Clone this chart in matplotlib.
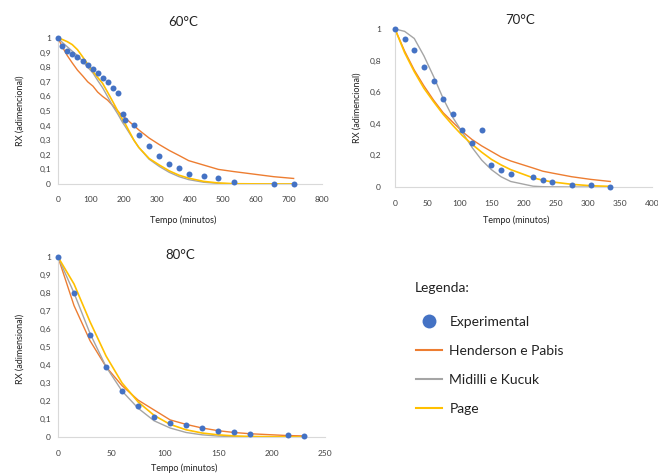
import matplotlib
matplotlib.use("Agg")
import matplotlib.pyplot as plt
from matplotlib.lines import Line2D
from matplotlib.ticker import FuncFormatter

plt.rcParams['font.family'] = ['Lato', 'DejaVu Sans']

W, H = 658, 473

# 60 °C
t60 = [0, 13, 28, 43, 59, 75, 90, 106, 120, 135, 150, 167, 181, 196, 202, 230,
       245, 276, 307, 337, 367, 396, 441, 486, 533, 654, 714]
exp60 = [1.0, 0.943, 0.911, 0.893, 0.870, 0.845, 0.818, 0.789, 0.761, 0.727, 0.698,
         0.657, 0.620, 0.477, 0.441, 0.402, 0.336, 0.257, 0.195, 0.139, 0.111,
         0.070, 0.055, 0.041, 0.014, 0.0, 0.0]
hp60 = [1.0, 0.94, 0.88, 0.83, 0.78, 0.74, 0.70, 0.67, 0.63, 0.60, 0.575, 0.535,
        0.50, 0.465, 0.455, 0.40, 0.37, 0.315, 0.27, 0.23, 0.195, 0.16, 0.13, 0.10,
        0.085, 0.05, 0.038]
mk60 = [1.0, 0.97, 0.94, 0.91, 0.88, 0.84, 0.80, 0.76, 0.71, 0.66, 0.60, 0.53, 0.48,
        0.42, 0.40, 0.30, 0.25, 0.17, 0.12, 0.08, 0.05, 0.03, 0.012, 0.004, 0.001,
        0.0, 0.0]
pg60 = [1.0, 0.99, 0.975, 0.955, 0.92, 0.87, 0.82, 0.77, 0.73, 0.69, 0.63, 0.56,
        0.50, 0.44, 0.42, 0.30, 0.25, 0.175, 0.13, 0.09, 0.06, 0.04, 0.018, 0.007,
        0.002, 0.0, 0.0]

# 70 °C
t70 = [0, 15, 30, 45, 60, 75, 90, 105, 120, 135, 150, 165, 180, 215, 230, 245,
       275, 305, 335]
exp70 = [1.0, 0.935, 0.865, 0.76, 0.67, 0.555, 0.46, 0.36, 0.28, 0.36, 0.14, 0.105,
         0.08, 0.063, 0.044, 0.03, 0.013, 0.013, 0.0]
hp70 = [1.0, 0.86, 0.74, 0.64, 0.55, 0.47, 0.41, 0.35, 0.30, 0.26, 0.225, 0.19,
        0.165, 0.12, 0.10, 0.088, 0.065, 0.048, 0.035]
mk70 = [1.0, 0.985, 0.94, 0.83, 0.70, 0.56, 0.44, 0.345, 0.25, 0.17, 0.11, 0.065,
        0.035, 0.005, 0.002, 0.001, 0.0, 0.0, 0.0]
pg70 = [1.0, 0.85, 0.73, 0.625, 0.54, 0.46, 0.39, 0.325, 0.27, 0.22, 0.175, 0.14,
        0.11, 0.058, 0.043, 0.032, 0.017, 0.008, 0.004]

# 80 °C
t80 = [0, 15, 30, 45, 60, 75, 90, 105, 120, 135, 150, 165, 180, 215, 230]
exp80 = [1.0, 0.80, 0.567, 0.387, 0.254, 0.174, 0.113, 0.078, 0.065, 0.05, 0.031,
         0.026, 0.017, 0.011, 0.004]
hp80 = [1.0, 0.73, 0.535, 0.39, 0.285, 0.205, 0.15, 0.095, 0.07, 0.05, 0.035, 0.025,
        0.018, 0.008, 0.006]
mk80 = [1.0, 0.80, 0.575, 0.39, 0.255, 0.16, 0.09, 0.05, 0.025, 0.012, 0.005, 0.002,
        0.001, 0.0, 0.0]
pg80 = [1.0, 0.85, 0.64, 0.45, 0.30, 0.195, 0.12, 0.07, 0.04, 0.022, 0.012, 0.006,
        0.003, 0.001, 0.0]

BLUE, ORANGE, GRAY, YELLOW = '#4472C4', '#ED7D31', '#A5A5A5', '#FFC000'
TXT = '#404040'


def px(x, y):
    return x / W, 1 - y / H


def box(x0, y0, x1, y1):
    # pixel box (left, top, right, bottom) -> figure fraction rect
    return [x0 / W, 1 - y1 / H, (x1 - x0) / W, (y1 - y0) / H]


comma = FuncFormatter(lambda v, p: ('%g' % round(v, 2)).replace('.', ','))

fig = plt.figure(figsize=(W / 100, H / 100), dpi=100)


def panel(rect, t, e, hp, mk, pg, xmax, xstep, ystep, title, tpos, xpad, ypad,
          xlab_y, ylabel, ylab_pos):
    ax = fig.add_axes(rect)
    ax.plot(t, hp, color=ORANGE, lw=1.0)
    ax.plot(t, mk, color=GRAY, lw=1.0)
    ax.plot(t, pg, color=YELLOW, lw=1.2)
    ax.plot(t, e, 'o', color=BLUE, ms=4.3, mec='none', clip_on=False, zorder=5)
    ax.set_xlim(0, xmax)
    ax.set_ylim(0, 1)
    ax.set_xticks(range(0, xmax + 1, xstep))
    n = int(round(1 / ystep))
    ax.set_yticks([i * ystep for i in range(n + 1)])
    ax.yaxis.set_major_formatter(comma)
    for s in ('top', 'right'):
        ax.spines[s].set_visible(False)
    for s in ('left', 'bottom'):
        ax.spines[s].set_color('#D9D9D9')
        ax.spines[s].set_linewidth(0.8)
    ax.tick_params(length=0, labelsize=6, colors=TXT)
    ax.tick_params(axis='x', pad=xpad)
    ax.tick_params(axis='y', pad=ypad)
    fig.text(*px(*tpos), title, ha='center', va='center', fontsize=9.5, color='#222')
    x0 = rect[0] * W
    x1 = x0 + rect[2] * W
    fig.text(*px((x0 + x1) / 2 - 7, xlab_y), 'Tempo (minutos)', ha='center',
             va='center', fontsize=6.5, color='#222')
    fig.text(*px(*ylab_pos), ylabel, rotation=90, ha='center', va='center',
             fontsize=6.5, color='#222')
    return ax


ax1 = panel(box(58, 38, 322, 184), t60, exp60, hp60, mk60, pg60,
            800, 100, 0.1, '60°C', (183, 22), 9, 5, 220,
            'RX (adimencional)', (20, 111))
ax2 = panel(box(395, 29, 652, 187), t70, exp70, hp70, mk70, pg70,
            400, 50, 0.2, '70°C', (520, 20), 9, 10, 220,
            'RX (adimencional)', (357, 108))
ax3 = panel(box(58, 257, 325, 437), t80, exp80, hp80, mk80, pg80,
            250, 50, 0.1, '80°C', (180, 255), 9, 5, 468,
            'RX (adimensional)', (20, 349))

fig.text(*px(415, 288), 'Legenda:', ha='left', va='center', fontsize=10,
         color='#222')
handles = [
    Line2D([], [], ls='none', marker='o', ms=10, color=BLUE, mec='none'),
    Line2D([], [], color=ORANGE, lw=1.5),
    Line2D([], [], color=GRAY, lw=1.5),
    Line2D([], [], color=YELLOW, lw=1.5),
]
labels = ['Experimental', 'Henderson e Pabis', 'Midilli e Kucuk', 'Page']
leg = fig.legend(handles, labels, loc='upper left',
                 bbox_to_anchor=px(416, 316), frameon=False, fontsize=10,
                 handlelength=1.9, handletextpad=0.5,
                 labelspacing=1.22, borderpad=0, borderaxespad=0)
for txt in leg.get_texts():
    txt.set_color('#222')

fig.savefig('out.png', dpi=100)
